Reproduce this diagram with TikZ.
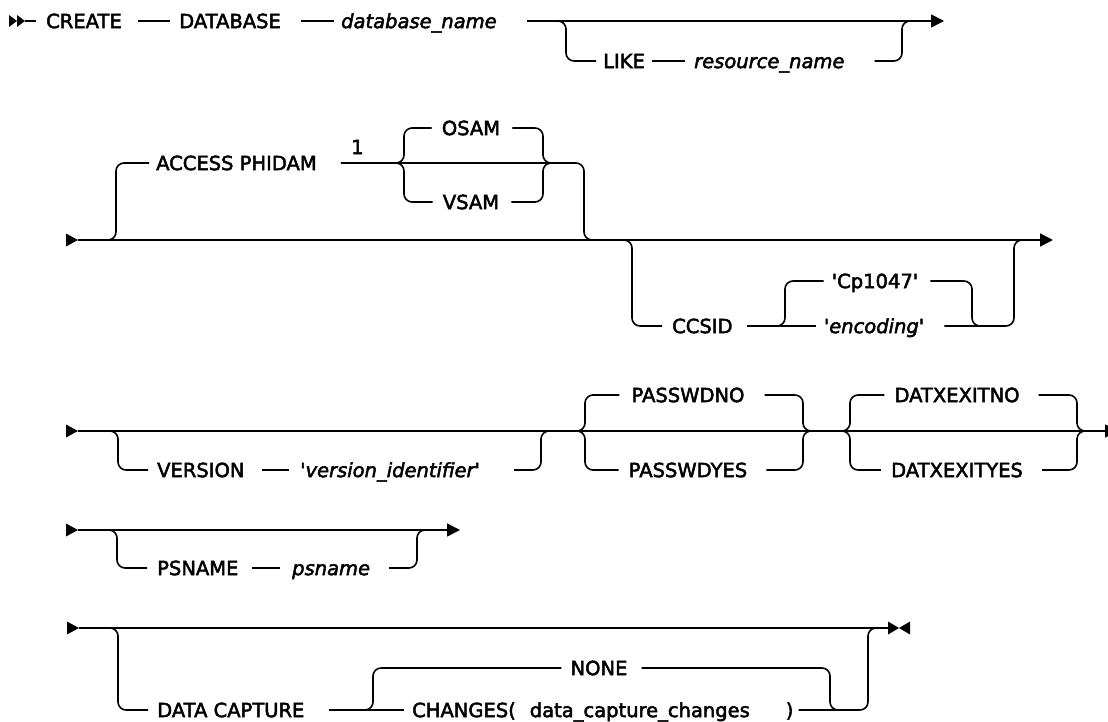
\documentclass[tikz,border=0pt]{standalone}
\usepackage{fontspec}
\setmainfont{DejaVu Sans}[FakeBold=2.5]
\usetikzlibrary{arrows.meta}
\tikzstyle{track} = [line width=1.6pt, rounded corners=8pt]
\tikzstyle{arrow} = [track, -{Triangle[length=13pt,width=13pt]}]
\tikzstyle{kw} = [anchor=west, inner xsep=0pt, inner ysep=0pt, text height=14.2pt, text depth=0pt, font=\fontsize{19.5}{23}\selectfont]
\tikzstyle{var} = [kw, font=\fontsize{19.5}{23}\selectfont\itshape]
\tikzstyle{choice} = [kw, anchor=center]
\newcommand{\squote}{\textquotesingle}
\tikzset{
  pics/entry/.style={code={\fill (0,-6.5) -- (12,0) -- (0,6.5) -- cycle;}},
  pics/dblentry/.style={code={\fill (0,-6) -- (8,0) -- (0,6) -- cycle; \fill (8,-6) -- (16,0) -- (8,6) -- cycle;}},
  pics/stop/.style={code={\fill (0,-6.5) -- (11,0) -- (0,6.5) -- cycle; \fill (22,-6.5) -- (11,0) -- (22,6.5) -- cycle;}}
}
\begin{document}
\begin{tikzpicture}[x=1pt, y=-1pt, every node/.style={kw}]
\useasboundingbox (0,0) rectangle (1108,722);

% CREATE DATABASE line
\pic at (9,21) {dblentry};
\coordinate (r1s) at (25,21);
\coordinate (r1e) at (944,21);
\coordinate (j1a) at (566,21);
\coordinate (j1b) at (902,21);
\node (create) at (46,21) {CREATE};
\node (database) at (179,21) {DATABASE};
\node[var] (dbname) at (341,21) {database\_name};
\node (like) at (603,61) {LIKE};
\node[var] (resname) at (694,61) {resource\_name};
\draw[track] (r1s) -- ([xshift=-10pt]create.west);
\draw[track] ([xshift=16pt]create.east) -- ([xshift=-9pt]database.west);
\draw[track] ([xshift=20pt]database.east) -- ([xshift=-7pt]dbname.west);
\draw[arrow] ([xshift=30pt]dbname.east) -- (r1e);
\draw[track] ([xshift=-8pt]j1a) -| (j1a |- like.west) -- ([xshift=-7pt]like.west);
\draw[track] ([xshift=7pt]like.east) -- ([xshift=-9pt]resname.west);
\draw[track] ([xshift=30pt]resname.east) -| (j1b) -- ([xshift=8pt]j1b);

% ACCESS and CCSID
\pic at (66,240) {entry};
\coordinate (r2s) at (78,240);
\coordinate (r2e) at (1053,240);
\coordinate (j2a) at (116,240);
\coordinate (j2b) at (584,240);
\coordinate (j2c) at (632,240);
\coordinate (j2d) at (1014,240);
\coordinate (c2a) at (404,163);
\coordinate (c2b) at (543,163);
\coordinate (c3a) at (785,326);
\coordinate (c3b) at (972,326);
\node (access) at (156,163) {ACCESS PHIDAM};
\node (note) at (351,147) {1};
\node[choice] (osam) at (471,128) {OSAM};
\node[choice] (vsam) at (471,202) {VSAM};
\node (ccsid) at (672,326) {CCSID};
\node[choice] (cp) at (875,281) {\squote Cp1047\squote};
\node[var, anchor=center] (enc) at (874,326) {\squote encoding\squote};
\draw[arrow] (r2s) -- (r2e);
\draw[track] ([xshift=-8pt]j2a) -| (j2a |- access.west) -- ([xshift=-7pt]access.west);
\draw[track] ([xshift=24pt]access.east) -| (j2b) -- ([xshift=8pt]j2b);
\draw[track] ([xshift=-8pt]c2a) -| (c2a |- osam.west) -- ([xshift=-10pt]osam.west);
\draw[track] ([xshift=-8pt]c2a) -| (c2a |- vsam.west) -- ([xshift=-10pt]vsam.west);
\draw[track] ([xshift=12pt]osam.east) -| (c2b) -- ([xshift=8pt]c2b);
\draw[track] ([xshift=12pt]vsam.east) -| (c2b) -- ([xshift=8pt]c2b);
\draw[track] ([xshift=-8pt]j2c) -| (j2c |- ccsid.west) -- ([xshift=-10pt]ccsid.west);
\draw[track] ([xshift=14pt]ccsid.east) -- ([xshift=-8pt]enc.west);
\draw[track] ([xshift=-8pt]c3a) -| (c3a |- cp.west) -- ([xshift=-8pt]cp.west);
\draw[track] ([xshift=12pt]cp.east) -| (c3b) -- ([xshift=8pt]c3b);
\draw[track] ([xshift=20pt]enc.east) -| (j2d) -- ([xshift=8pt]j2d);

% VERSION, PASSWD, DATXEXIT
\pic at (66,431) {entry};
\coordinate (r3s) at (78,431);
\coordinate (r3e) at (1118,431);
\coordinate (j3a) at (118,431);
\coordinate (j3b) at (541,431);
\coordinate (c4a) at (585,431);
\coordinate (c4b) at (803,431);
\coordinate (c5a) at (850,431);
\coordinate (c5b) at (1077,431);
\node (version) at (157,470) {VERSION};
\node[var] (verid) at (300,470) {\squote version\_identifier\squote};
\node[choice] (pwno) at (688,395) {PASSWDNO};
\node[choice] (pwyes) at (688,470) {PASSWDYES};
\node[choice] (dxno) at (957,395) {DATXEXITNO};
\node[choice] (dxyes) at (957,470) {DATXEXITYES};
\draw[arrow] (r3s) -- (r3e);
\draw[track] ([xshift=-8pt]j3a) -| (j3a |- version.west) -- ([xshift=-9pt]version.west);
\draw[track] ([xshift=17pt]version.east) -- ([xshift=-11pt]verid.west);
\draw[track] ([xshift=34pt]verid.east) -| (j3b) -- ([xshift=8pt]j3b);
\draw[track] ([xshift=-8pt]c4a) -| (c4a |- pwno.west) -- ([xshift=-12pt]pwno.west);
\draw[track] ([xshift=-8pt]c4a) -| (c4a |- pwyes.west) -- ([xshift=-10pt]pwyes.west);
\draw[track] ([xshift=20pt]pwno.east) -| (c4b) -- ([xshift=8pt]c4b);
\draw[track] ([xshift=19pt]pwyes.east) -| (c4b) -- ([xshift=8pt]c4b);
\draw[track] ([xshift=-8pt]c5a) -| (c5a |- dxno.west) -- ([xshift=-10pt]dxno.west);
\draw[track] ([xshift=-8pt]c5a) -| (c5a |- dxyes.west) -- ([xshift=-10pt]dxyes.west);
\draw[track] ([xshift=19pt]dxno.east) -| (c5b) -- ([xshift=8pt]c5b);
\draw[track] ([xshift=19pt]dxyes.east) -| (c5b) -- ([xshift=8pt]c5b);

% PSNAME
\pic at (66,530) {entry};
\coordinate (r4s) at (78,530);
\coordinate (r4e) at (460,530);
\coordinate (j4a) at (117,530);
\coordinate (j4b) at (417,530);
\node (psname) at (157,568) {PSNAME};
\node[var] (psvar) at (292,568) {psname};
\draw[arrow] (r4s) -- (r4e);
\draw[track] ([xshift=-8pt]j4a) -| (j4a |- psname.west) -- ([xshift=-10pt]psname.west);
\draw[track] ([xshift=13pt]psname.east) -- ([xshift=-12pt]psvar.west);
\draw[track] ([xshift=19pt]psvar.east) -| (j4b) -- ([xshift=8pt]j4b);

% DATA CAPTURE
\pic at (67,628) {entry};
\coordinate (r5s) at (79,628);
\coordinate (r5e) at (888,628);
\coordinate (j5a) at (118,628);
\coordinate (j5b) at (868,628);
\coordinate (c6a) at (373,710);
\coordinate (c6b) at (830,710);
\node (dcap) at (157,710) {DATA CAPTURE};
\node[choice] (none) at (599,668) {NONE};
\node (chg) at (412,710) {CHANGES(\hspace{14pt}data\_capture\_changes\hspace{36pt})};
\draw[track] (r5s) -- (r5e);
\pic at (r5e) {stop};
\draw[track] ([xshift=-8pt]j5a) -| (j5a |- dcap.west) -- ([xshift=-9pt]dcap.west);
\draw[track] ([xshift=24pt]dcap.east) -- ([xshift=-8pt]chg.west);
\draw[track] ([xshift=-8pt]c6a) -| (c6a |- none.west) -- ([xshift=-9pt]none.west);
\draw[track] ([xshift=14pt]none.east) -| (c6b) -- ([xshift=8pt]c6b);
\draw[track] ([xshift=5pt]chg.east) -| (j5b) -- ([xshift=8pt]j5b);
\end{tikzpicture}
\end{document}
